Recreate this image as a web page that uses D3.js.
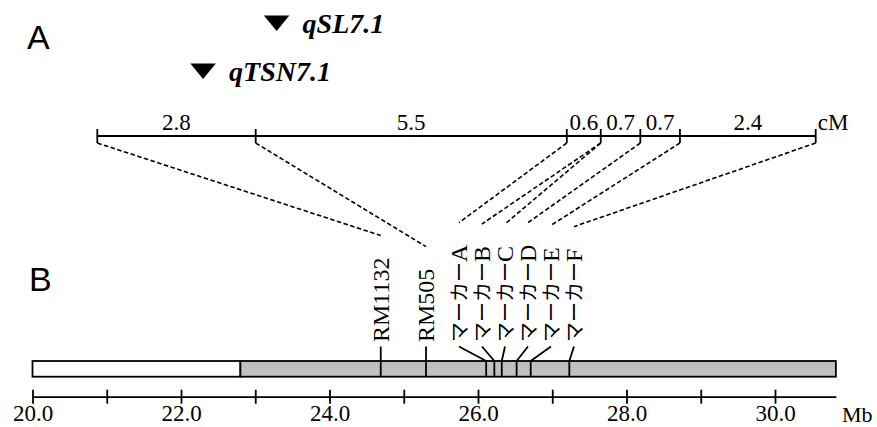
<!DOCTYPE html>
<html>
<head>
<meta charset="utf-8">
<script src="https://cdn.jsdelivr.net/npm/d3@7"></script>
<style>
  body { margin: 0; background: #fff; }
  svg { display: block; }
  .serif { font-family: "Liberation Serif", "Noto Sans CJK JP", serif; fill: #000; }
  .panel { font-family: "Liberation Sans", Arial, sans-serif; font-size: 34px; fill: #000; }
</style>
</head>
<body>
<div id="chart"></div>
<script>
// genetic map (cM) intervals between neighbouring markers
const cmIntervals = [2.8, 5.5, 0.6, 0.7, 0.7, 2.4];
// markers, their physical position (Mb) and which cM tick they belong to
const markerNames = ['RM1132', 'RM505', 'マーカーA', 'マーカーB', 'マーカーC', 'マーカーD', 'マーカーE', 'マーカーF'];
const markerMb = [24.69, 25.30, 26.11, 26.22, 26.32, 26.52, 26.71, 27.23];
const markerTick = [0, 1, 2, 3, 3, 4, 5, 6];
// QTLs on the genetic map
const qtlNames = ['qSL7.1', 'qTSN7.1'];
const qtlCM = [3.17, 1.87];
// chromosome segment: recurrent parent then donor region
const segBreaks = [20.0, 22.8, 30.82];
const mbTicks = [20, 21, 22, 23, 24, 25, 26, 27, 28, 29, 30];

const width = 877;
const height = 427;

const svg = d3.select('#chart')
  .append('svg')
  .attr('width', width)
  .attr('height', height);

// ---------- panel labels
svg.append('text').attr('class', 'panel').attr('x', 27).attr('y', 48.5).text('A');
svg.append('text').attr('class', 'panel').attr('x', 29).attr('y', 291).text('B');

// ---------- genetic map (A)
const cmPos = [0].concat(Array.from(d3.cumsum(cmIntervals)));
const cmY = 136;
const cm = d3.scaleLinear()
  .domain([0, d3.sum(cmIntervals)])
  .range([97.3, 815.7]);

svg.append('line')
  .attr('x1', cm(0)).attr('x2', cm(cmPos[cmPos.length - 1]))
  .attr('y1', cmY).attr('y2', cmY)
  .attr('stroke', '#000').attr('stroke-width', 1.8);

svg.selectAll('.cmtick')
  .data(cmPos)
  .enter()
  .append('line')
  .attr('class', 'cmtick')
  .attr('x1', d => cm(d)).attr('x2', d => cm(d))
  .attr('y1', cmY - 7).attr('y2', cmY + 7)
  .attr('stroke', '#000').attr('stroke-width', 1.8);

svg.selectAll('.cmlab')
  .data(cmIntervals)
  .enter()
  .append('text')
  .attr('class', 'serif')
  .attr('font-size', 23)
  .attr('text-anchor', 'middle')
  .attr('x', (d, i) => (cm(cmPos[i]) + cm(cmPos[i + 1])) / 2)
  .attr('y', 129.5)
  .text(d => d.toFixed(1));

svg.append('text')
  .attr('class', 'serif')
  .attr('font-size', 23)
  .attr('x', cm(cmPos[cmPos.length - 1]) + 2)
  .attr('y', 130)
  .text('cM');

// QTL triangles
const qtl = svg.selectAll('.qtl')
  .data(qtlNames)
  .enter()
  .append('g')
  .attr('class', 'qtl')
  .attr('transform', (d, i) => 'translate(' + cm(qtlCM[i]) + ',' + (15.5 + i * 48) + ')');

qtl.append('path')
  .attr('d', 'M-12.75,0L12.75,0L0,15.5Z')
  .attr('fill', '#000');

qtl.append('text')
  .attr('class', 'serif')
  .attr('font-size', 28)
  .attr('font-weight', 'bold')
  .attr('font-style', 'italic')
  .attr('x', 26)
  .attr('y', 17.5)
  .text(d => d);

// ---------- physical map (B)
const x = d3.scaleLinear()
  .domain([20, segBreaks[segBreaks.length - 1]])
  .range([32.5, 32.5 + (segBreaks[segBreaks.length - 1] - 20) * 74.25]);

const barTop = 361;
const barH = 15.7;

svg.selectAll('.seg')
  .data(d3.pairs(segBreaks))
  .enter()
  .append('rect')
  .attr('class', 'seg')
  .attr('x', d => x(d[0]))
  .attr('width', d => x(d[1]) - x(d[0]))
  .attr('y', barTop)
  .attr('height', barH)
  .attr('fill', (d, i) => i === 0 ? '#fff' : '#c0c0c0')
  .attr('stroke', '#000')
  .attr('stroke-width', 1.8);

// spread labels so they do not overlap
const labelX = markerMb.map(d => x(d));
for (let k = 0; k < 300; k++) {
  for (let i = 1; i < labelX.length; i++) {
    const gap = labelX[i] - labelX[i - 1];
    if (gap < 23) {
      const s = (23 - gap) / 2;
      labelX[i - 1] -= s;
      labelX[i] += s;
    }
  }
}

const labelBase = 342;
const mk = svg.selectAll('.marker')
  .data(markerNames)
  .enter()
  .append('g')
  .attr('class', 'marker');

const lab = mk.append('text')
  .attr('class', 'serif')
  .attr('font-size', 24)
  .attr('transform', (d, i) => 'translate(' + labelX[i] + ',' + labelBase + ') rotate(-90)')
  .attr('dy', '0.34em');

lab.each(function(d) {
  const t = d3.select(this);
  const m = d.match(/^([\u30A0-\u30FF]+)(.*)$/);
  if (m) {
    t.append('tspan').attr('font-size', 20).text(m[1]);
    t.append('tspan').text(m[2]);
  } else {
    t.text(d);
  }
});

mk.append('path')
  .attr('d', (d, i) => 'M' + labelX[i] + ',346.5L' + x(markerMb[i]) + ',' + barTop + 'L' + x(markerMb[i]) + ',' + (barTop + barH))
  .attr('fill', 'none')
  .attr('stroke', '#000')
  .attr('stroke-width', 1.8);

// dashed links from cM ticks to label tops
mk.append('line')
  .attr('x1', (d, i) => cm(cmPos[markerTick[i]]))
  .attr('y1', cmY + 7)
  .attr('x2', (d, i) => labelX[i])
  .attr('y2', function(d, i) {
    const len = lab.nodes()[i].getComputedTextLength();
    return labelBase - len - 22;
  })
  .attr('stroke', '#000')
  .attr('stroke-width', 1.6)
  .attr('stroke-dasharray', '4.5,2.5');

// Mb axis
const axisY = 396.7;
const axis = svg.append('g')
  .attr('transform', 'translate(0,' + axisY + ')')
  .call(d3.axisBottom(x)
    .tickValues(mbTicks)
    .tickSizeInner(7)
    .tickSizeOuter(0)
    .tickFormat(d => d % 2 === 0 ? d.toFixed(1) : ''));

axis.select('.domain').attr('stroke-width', 1.8);
axis.selectAll('.tick line').attr('y1', -7).attr('y2', 7).attr('stroke-width', 1.8);
axis.selectAll('.tick text')
  .attr('class', 'serif')
  .attr('font-size', 23)
  .attr('y', 24.5)
  .attr('dy', 0);
axis.attr('font-family', null).attr('font-size', null);

svg.append('text')
  .attr('class', 'serif')
  .attr('font-size', 22)
  .attr('x', 842)
  .attr('y', 422)
  .text('Mb');
</script>
</body>
</html>
